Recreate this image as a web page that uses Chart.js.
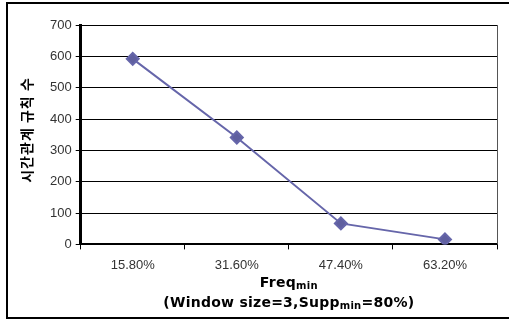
<!DOCTYPE html>
<html lang="ko">
<head>
  <meta charset="UTF-8">
  <title>시간관계 규칙 수</title>
  <script src="https://cdn.jsdelivr.net/npm/chart.js@4"></script>
  <style>
    body { margin: 0; background: #fff; }
    #wrap { width: 509px; height: 320px; position: relative; }
  </style>
</head>
<body>
<div id="wrap"><canvas id="ruleChart"></canvas></div>
<script>
const freqLabels = ['15.80%', '31.60%', '47.40%', '63.20%'];
const ruleCounts = [592, 341, 67, 16];
const yTicks = [0, 100, 200, 300, 400, 500, 600, 700];
const yTitle = '시간관계 규칙 수';

const tickFont = { family: "'Liberation Sans', Arial, sans-serif", size: 13 };
const boldFont = "bold 14px 'DejaVu Sans', 'Noto Sans CJK KR', sans-serif";
const subFont = "bold 10px 'DejaVu Sans', 'Noto Sans CJK KR', sans-serif";
const korFont = "bold 14px 'Noto Sans CJK KR', sans-serif";

// 텍스트 + 아래첨자 그리기 (목표 폭에 맞춰 자간 조정)
function drawParts(ctx, parts, cx, y, targetW) {
  const measure = () => {
    let w = 0;
    parts.forEach(p => { ctx.font = p.sub ? subFont : boldFont; w += ctx.measureText(p.t).width; });
    return w;
  };
  ctx.letterSpacing = '0px';
  let w = measure();
  const n = parts.reduce((s, p) => s + p.t.length, 0);
  const sp = targetW ? Math.max(0, (targetW - w) / n) : 0;
  ctx.letterSpacing = sp + 'px';
  w = measure();
  let x = cx - w / 2;
  parts.forEach(p => {
    ctx.font = p.sub ? subFont : boldFont;
    ctx.fillText(p.t, x, p.sub ? y + 3 : y);
    x += ctx.measureText(p.t).width;
  });
  ctx.letterSpacing = '0px';
}

const decor = {
  id: 'decor',
  afterDraw(chart) {
    const ctx = chart.ctx;
    const a = chart.chartArea;
    ctx.save();
    // 바깥 테두리
    ctx.strokeStyle = '#000';
    ctx.lineWidth = 2;
    ctx.beginPath();
    ctx.moveTo(515, 3); ctx.lineTo(7, 3); ctx.lineTo(7, 318); ctx.lineTo(515, 318);
    ctx.stroke();
    // 플롯 오른쪽 테두리
    ctx.strokeStyle = '#555';
    ctx.lineWidth = 1;
    ctx.beginPath();
    ctx.moveTo(a.right + 0.5, a.top); ctx.lineTo(a.right + 0.5, a.bottom);
    ctx.stroke();
    // y축 제목
    ctx.fillStyle = '#000';
    ctx.textBaseline = 'middle';
    ctx.textAlign = 'center';
    ctx.translate(27, 130);
    ctx.rotate(-Math.PI / 2);
    ctx.font = korFont;
    ctx.letterSpacing = '1px';
    ctx.fillText(yTitle, 0, 0);
    ctx.letterSpacing = '0px';
    ctx.setTransform(1, 0, 0, 1, 0, 0);
    // x축 제목
    ctx.textAlign = 'left';
    const cx = (a.left + a.right) / 2;
    drawParts(ctx, [{ t: 'Freq' }, { t: 'min', sub: true }], cx, 283, 58);
    drawParts(ctx, [{ t: '(Window size=3,Supp' }, { t: 'min', sub: true }, { t: '=80%)' }], cx, 303, 251);
    ctx.restore();
  }
};

new Chart(document.getElementById('ruleChart'), {
  type: 'line',
  data: {
    labels: freqLabels,
    datasets: [{
      data: ruleCounts,
      borderColor: '#6666aa',
      backgroundColor: '#5f5f9f',
      borderWidth: 2,
      pointStyle: 'rectRot',
      pointRadius: 6,
      pointHoverRadius: 6,
      tension: 0
    }]
  },
  options: {
    responsive: true,
    maintainAspectRatio: false,
    animation: false,
    layout: { padding: { left: 46, top: 25, right: 12, bottom: 39 } },
    plugins: { legend: { display: false }, tooltip: { enabled: false } },
    scales: {
      x: {
        offset: true,
        grid: { display: true, drawOnChartArea: false, offset: true, color: '#000', tickLength: 5, tickWidth: 1 },
        border: { color: '#000', width: 2 },
        ticks: { color: '#333', font: tickFont, padding: 8, maxRotation: 0 }
      },
      y: {
        min: 0, max: 700,
        afterBuildTicks: s => { s.ticks = yTicks.map(v => ({ value: v })); },
        grid: { color: '#000', lineWidth: 1, tickLength: 5 },
        border: { color: '#000', width: 3 },
        ticks: { color: '#333', font: tickFont, padding: 4 }
      }
    }
  },
  plugins: [decor]
});
</script>
</body>
</html>
